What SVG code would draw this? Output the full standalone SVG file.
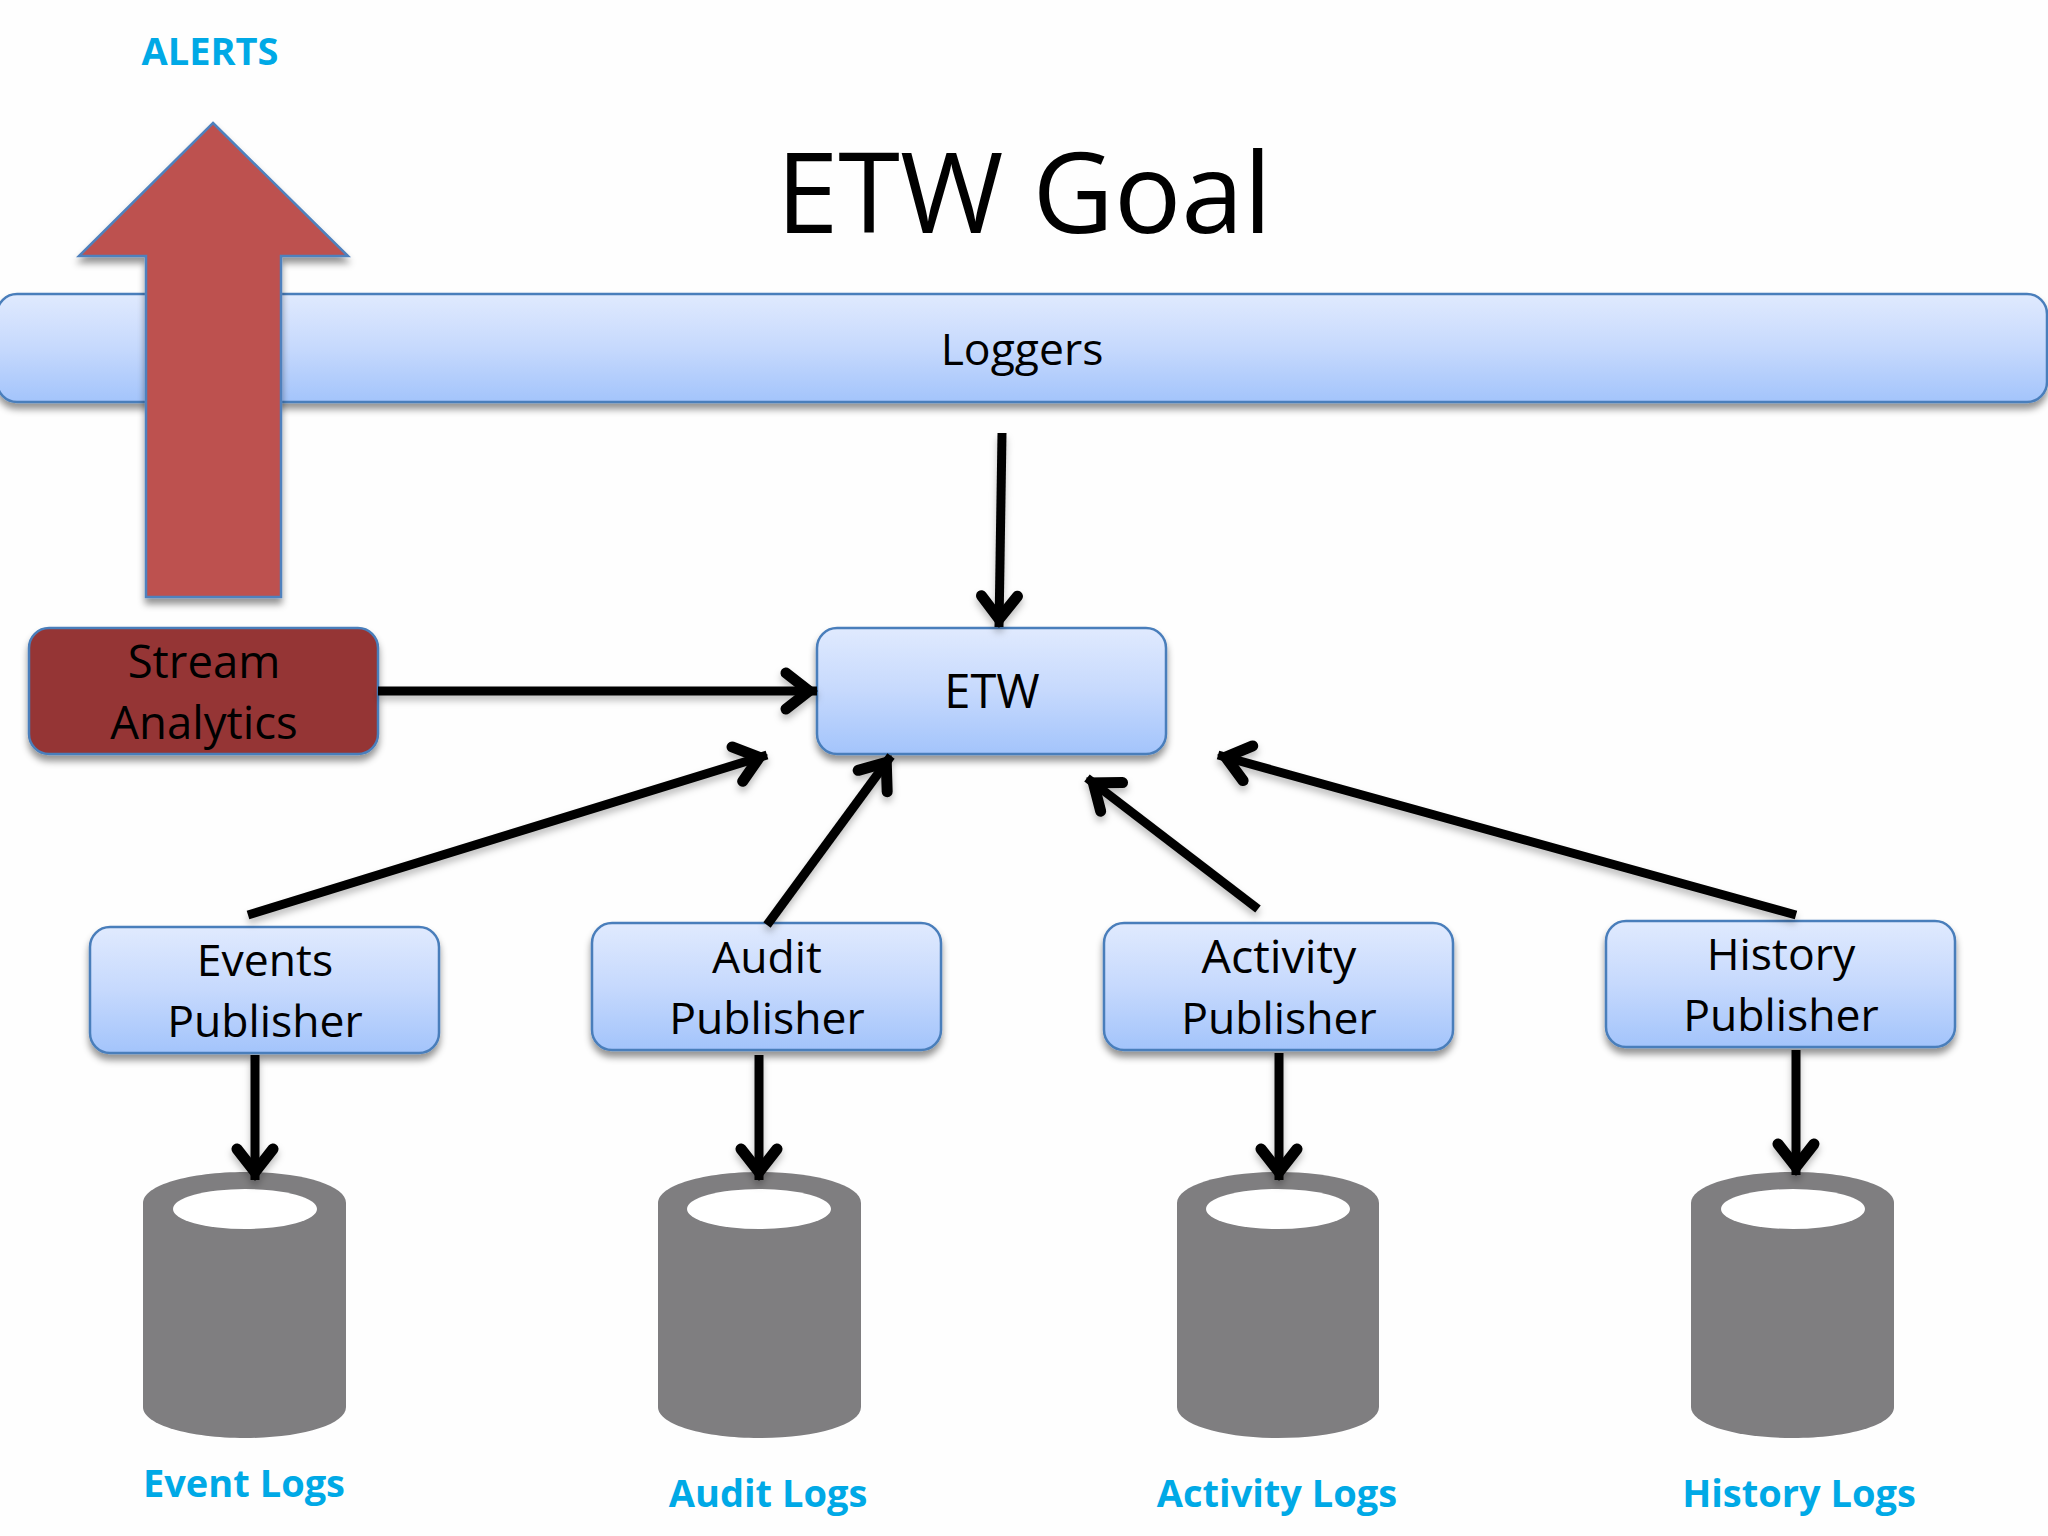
<svg xmlns="http://www.w3.org/2000/svg" width="2048" height="1536" viewBox="0 0 2048 1536">
<style>
text{font-family:"Open Sans","Noto Sans","DejaVu Sans",sans-serif;text-anchor:middle;fill:#000}
.l{font-size:44.5px}
.c{font-size:38px;font-weight:700;fill:#00a9e6}
.b{fill:url(#blue);stroke:#4a7ebb;stroke-width:2.5}
.cyl{fill:#7f7e80}
.rim{fill:#fff}
#connectors line{stroke:#000;stroke-width:9;marker-end:url(#head)}
</style>
<defs>
<linearGradient id="blue" x1="0" y1="0" x2="0" y2="1"><stop offset="0" stop-color="#e0eafe"/><stop offset="0.5" stop-color="#c6d9fd"/><stop offset="1" stop-color="#a3c4fb"/></linearGradient>
<filter id="sh" x="-10%" y="-20%" width="120%" height="150%"><feDropShadow dx="0" dy="6" stdDeviation="3.5" flood-color="#000" flood-opacity="0.42"/></filter>
<filter id="ls" filterUnits="userSpaceOnUse" x="0" y="0" width="2048" height="1536"><feDropShadow dx="0" dy="5" stdDeviation="3.5" flood-color="#000" flood-opacity="0.25"/></filter>
<marker id="head" markerUnits="userSpaceOnUse" markerWidth="60" markerHeight="60" viewBox="-50 -30 60 60" refX="0" refY="0" orient="auto" overflow="visible">
<path d="M-31,-18 L-8,0 L-31,18" fill="none" stroke="#000" stroke-width="11" stroke-linecap="round" stroke-linejoin="miter"/>
</marker>
</defs>
<rect width="2048" height="1536" fill="#fefefe"/>
<text id="title" x="1024" y="233" style="font-size:112px">ETW Goal</text>
<g id="loggers"><rect class="b" x="-3" y="294" width="2050" height="108" rx="20" filter="url(#sh)"/><text class="l" x="1022" y="365">Loggers</text></g>
<g id="alerts-arrow"><polygon points="213,123 348,256 281,256 281,597 146,597 146,256 79,256" fill="#bd514f" stroke="#4f81bd" stroke-width="2.5" filter="url(#sh)"/></g>
<text id="alerts" class="c" x="210" y="65">ALERTS</text>
<g id="stream"><rect x="29" y="628" width="349" height="126" rx="20" fill="#953535" stroke="#4a7ebb" stroke-width="2.5" filter="url(#sh)"/><text class="l" x="204" y="678" style="font-size:45.5px">Stream</text><text class="l" x="204" y="739" style="font-size:45.5px">Analytics</text></g>
<g id="etw"><rect class="b" x="817" y="628" width="349" height="126" rx="20" filter="url(#sh)"/><text class="l" x="992" y="708" style="font-size:47px">ETW</text></g>
<g id="events"><rect class="b" x="90" y="927" width="349" height="126" rx="20" filter="url(#sh)"/><text class="l" x="265" y="976">Events</text><text class="l" x="265" y="1037">Publisher</text></g>
<g id="audit"><rect class="b" x="592" y="923" width="349" height="127" rx="20" filter="url(#sh)"/><text class="l" x="767" y="973">Audit</text><text class="l" x="767" y="1034">Publisher</text></g>
<g id="activity"><rect class="b" x="1104" y="923" width="349" height="127" rx="20" filter="url(#sh)"/><text class="l" x="1279" y="973" style="font-size:46.5px">Activity</text><text class="l" x="1279" y="1034">Publisher</text></g>
<g id="history"><rect class="b" x="1606" y="921" width="349" height="126" rx="20" filter="url(#sh)"/><text class="l" x="1781" y="970">History</text><text class="l" x="1781" y="1031">Publisher</text></g>
<g id="event-logs"><path class="cyl" d="M143,1203 C143,1185 190,1172 245,1172 C300,1172 346,1185 346,1203 V1407 C346,1425 300,1438 245,1438 C190,1438 143,1425 143,1407 Z"/><ellipse class="rim" cx="245" cy="1209" rx="72" ry="20"/><text class="c" x="244" y="1497">Event Logs</text></g>
<g id="audit-logs"><path class="cyl" d="M658,1203 C658,1185 705,1172 759,1172 C815,1172 861,1185 861,1203 V1407 C861,1425 815,1438 759,1438 C705,1438 658,1425 658,1407 Z"/><ellipse class="rim" cx="759" cy="1209" rx="72" ry="20"/><text class="c" x="768" y="1507">Audit Logs</text></g>
<g id="activity-logs"><path class="cyl" d="M1177,1203 C1177,1185 1224,1172 1278,1172 C1334,1172 1379,1185 1379,1203 V1407 C1379,1425 1334,1438 1278,1438 C1224,1438 1177,1425 1177,1407 Z"/><ellipse class="rim" cx="1278" cy="1209" rx="72" ry="20"/><text class="c" x="1277" y="1507">Activity Logs</text></g>
<g id="history-logs"><path class="cyl" d="M1691,1203 C1691,1185 1738,1172 1793,1172 C1848,1172 1894,1185 1894,1203 V1407 C1894,1425 1848,1438 1793,1438 C1738,1438 1691,1425 1691,1407 Z"/><ellipse class="rim" cx="1793" cy="1209" rx="72" ry="20"/><text class="c" x="1799" y="1507">History Logs</text></g>
<g id="connectors" filter="url(#ls)">
<line x1="1002" y1="433" x2="999" y2="627"/>
<line x1="378" y1="691" x2="817" y2="691"/>
<line x1="248" y1="915" x2="767" y2="755"/>
<line x1="767" y1="925" x2="891" y2="756"/>
<line x1="1258" y1="909" x2="1087" y2="778"/>
<line x1="1796" y1="915" x2="1218" y2="755"/>
<line x1="255" y1="1055" x2="255" y2="1180"/>
<line x1="759" y1="1055" x2="759" y2="1180"/>
<line x1="1279" y1="1053" x2="1279" y2="1180"/>
<line x1="1796" y1="1050" x2="1796" y2="1175"/>
</g>
</svg>
